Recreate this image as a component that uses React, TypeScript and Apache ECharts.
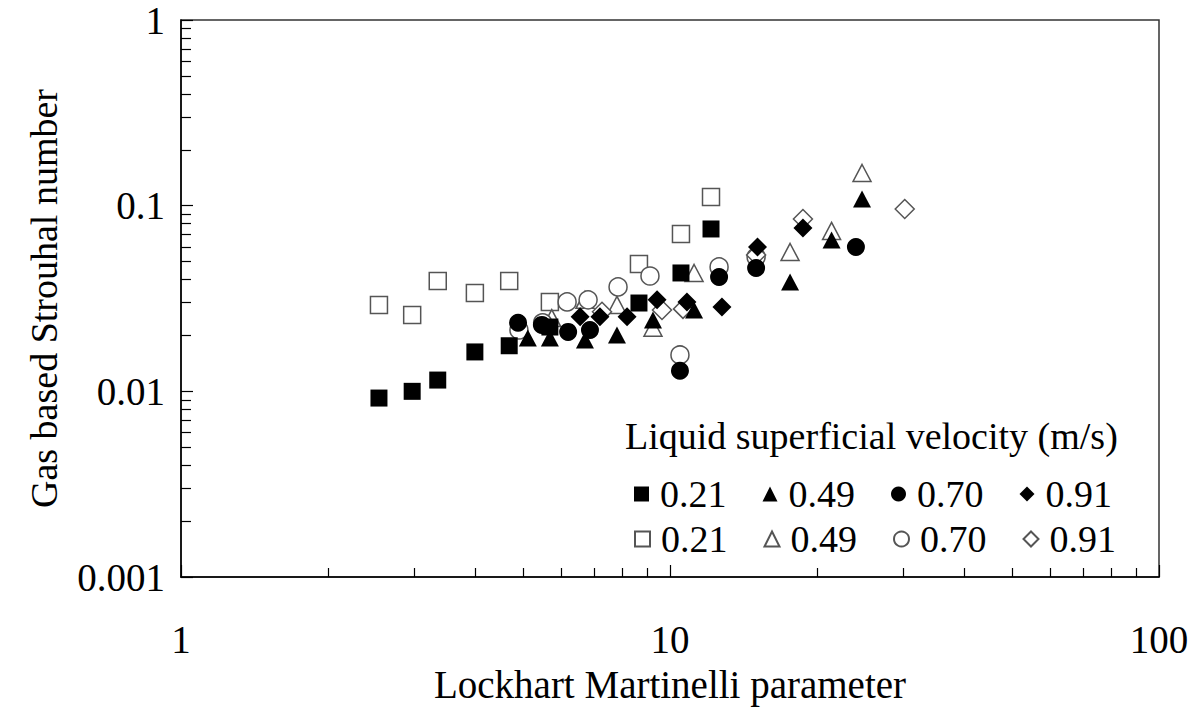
import React, { useEffect, useRef } from "react";
import * as echarts from "echarts";

// Legend labels (liquid superficial velocity, m/s)
const velocities = ["0.21", "0.49", "0.70", "0.91"];
const xTickLabels = ["1", "10", "100"];
const yTickLabels = ["0.001", "0.01", "0.1", "1"];
const minorSteps = [2, 3, 4, 5, 6, 7, 8, 9];
const xDecades = [1, 10];
const yDecades = [0.001, 0.01, 0.1];

// filled markers
const sqFilledX = [2.54, 2.97, 3.35, 3.99, 4.69, 5.68, 8.64, 10.53, 12.13];
const sqFilledY = [0.0092, 0.01, 0.0115, 0.0163, 0.0176, 0.0222, 0.0299, 0.0434, 0.0749];
const triFilledX = [5.12, 5.68, 6.7, 7.79, 9.23, 11.2, 17.6, 21.4, 24.7];
const triFilledY = [0.0194, 0.0194, 0.0189, 0.0201, 0.0242, 0.0274, 0.0388, 0.0654, 0.1087];
const cirFilledX = [4.89, 5.47, 6.19, 6.86, 10.48, 12.6, 15.0, 24.0];
const cirFilledY = [0.0234, 0.0228, 0.0209, 0.0214, 0.0129, 0.0413, 0.0462, 0.0599];
const diaFilledX = [6.55, 7.19, 8.17, 9.41, 10.83, 12.77, 15.1, 18.7];
const diaFilledY = [0.0252, 0.0252, 0.0252, 0.0311, 0.0303, 0.0285, 0.0599, 0.0759];

// open markers
const sqOpenX = [2.54, 2.97, 3.35, 3.99, 4.69, 5.68, 8.64, 10.53, 12.13];
const sqOpenY = [0.0292, 0.0258, 0.0393, 0.0339, 0.0393, 0.0303, 0.0485, 0.0704, 0.1114];
const triOpenX = [5.73, 6.7, 7.79, 9.23, 11.2, 17.6, 21.4, 24.7];
const triOpenY = [0.0248, 0.0311, 0.0292, 0.022, 0.0434, 0.0563, 0.0731, 0.15];
const cirOpenX = [4.91, 5.49, 6.16, 6.8, 7.83, 9.1, 10.48, 12.6, 15.0];
const cirOpenY = [0.0214, 0.0234, 0.0303, 0.0311, 0.0365, 0.0418, 0.0157, 0.0468, 0.0529];
const diaOpenX = [7.26, 9.63, 10.63, 15.0, 18.7, 30.2];
const diaOpenY = [0.0268, 0.0274, 0.0278, 0.0543, 0.0848, 0.096];

const FONT = '"Liberation Serif", "Times New Roman", serif';

function zip(xs: number[], ys: number[]) {
  return xs.map((x, i) => [x, ys[i]]);
}

export default function App() {
  const ref = useRef<HTMLDivElement>(null);
  useEffect(() => {
    document.body.style.margin = "0";
    document.body.style.overflow = "hidden";
    if (!ref.current) return;
    const chart = echarts.init(ref.current, null, { renderer: "svg" });

    const minorX: number[] = [];
    xDecades.forEach((d) => minorSteps.forEach((s) => minorX.push(d * s)));
    const minorY: number[] = [];
    yDecades.forEach((d) => minorSteps.forEach((s) => minorY.push(d * s)));

    const openStyle = { color: "#fff", borderColor: "#555", borderWidth: 1.5, opacity: 1 };
    const filledStyle = { color: "#000", opacity: 1 };

    const shapes = [
      { sym: "rect", size: 17, fx: sqFilledX, fy: sqFilledY, ox: sqOpenX, oy: sqOpenY },
      { sym: "triangle", size: [18, 17], fx: triFilledX, fy: triFilledY, ox: triOpenX, oy: triOpenY },
      { sym: "circle", size: 18, fx: cirFilledX, fy: cirFilledY, ox: cirOpenX, oy: cirOpenY },
      { sym: "diamond", size: 19, fx: diaFilledX, fy: diaFilledY, ox: diaOpenX, oy: diaOpenY },
    ];

    const openSeries = shapes.map((s, i) => ({
      type: "scatter",
      name: "O" + velocities[i],
      symbol: s.sym,
      symbolSize: s.size,
      itemStyle: openStyle,
      data: zip(s.ox, s.oy),
      z: 2,
    }));
    const filledSeries = shapes.map((s, i) => ({
      type: "scatter",
      name: "F" + velocities[i],
      symbol: s.sym,
      symbolSize: s.size,
      itemStyle: filledStyle,
      data: zip(s.fx, s.fy),
      z: 3,
    }));

    const axisLine = { show: true, lineStyle: { color: "#000", width: 1.5 } };
    const legendBase = {
      orient: "horizontal",
      itemWidth: 15,
      itemHeight: 15,
      itemGap: 36,
      selectedMode: false,
      formatter: (n: string) => n.slice(1),
      textStyle: { fontFamily: FONT, fontSize: 38, color: "#000", padding: [0, 0, 0, 6] },
    };

    chart.setOption({
      animation: false,
      backgroundColor: "#fff",
      grid: {
        left: 181,
        top: 20,
        width: 978,
        height: 557,
        show: true,
        borderColor: "#333",
        borderWidth: 1.5,
        outerBoundsMode: "none",
        containLabel: false,
      },
      graphic: [
        {
          type: "text",
          left: 625,
          top: 417,
          style: { text: "Liquid superficial velocity (m/s)", font: "38px " + FONT, fill: "#000" },
        },
      ],
      legend: [
        { ...legendBase, left: 629, top: 470, data: velocities.map((v) => "F" + v) },
        { ...legendBase, left: 629, top: 515, data: velocities.map((v) => "O" + v) },
      ],
      xAxis: [
        {
          type: "log",
          logBase: 10,
          min: 1,
          max: 100,
          position: "bottom",
          axisLine,
          axisTick: { show: true, inside: true, length: 12, lineStyle: { color: "#000", width: 1.2 } },
          axisLabel: {
            margin: 43,
            fontFamily: FONT,
            fontSize: 39,
            color: "#000",
            formatter: (v: number) => xTickLabels[Math.round(Math.log10(v))],
          },
          splitLine: { show: false },
          name: "Lockhart Martinelli parameter",
          nameLocation: "middle",
          nameGap: 88,
          nameTextStyle: { fontFamily: FONT, fontSize: 39, color: "#000" },
        },
        {
          type: "log",
          logBase: 10,
          min: 1,
          max: 100,
          position: "bottom",
          axisLine: { show: false },
          axisTick: { show: true, inside: true, length: 9, customValues: minorX, lineStyle: { color: "#000", width: 1.2 } },
          axisLabel: { show: false },
          splitLine: { show: false },
        },
      ],
      yAxis: [
        {
          type: "log",
          logBase: 10,
          min: 0.001,
          max: 1,
          position: "left",
          axisLine,
          axisTick: { show: true, inside: true, length: 12, lineStyle: { color: "#000", width: 1.2 } },
          axisLabel: {
            margin: 16,
            fontFamily: FONT,
            fontSize: 39,
            color: "#000",
            formatter: (v: number) => yTickLabels[Math.round(Math.log10(v)) + 3],
          },
          splitLine: { show: false },
          name: "Gas based Strouhal number",
          nameLocation: "middle",
          nameGap: 118,
          nameTextStyle: { fontFamily: FONT, fontSize: 38, color: "#000" },
        },
        {
          type: "log",
          logBase: 10,
          min: 0.001,
          max: 1,
          position: "left",
          axisLine: { show: false },
          axisTick: { show: true, inside: true, length: 10, customValues: minorY, lineStyle: { color: "#000", width: 1.2 } },
          axisLabel: { show: false },
          splitLine: { show: false },
        },
      ],
      series: [...openSeries, ...filledSeries],
    });

    return () => chart.dispose();
  }, []);

  return <div ref={ref} style={{ width: 1197, height: 715 }} />;
}
